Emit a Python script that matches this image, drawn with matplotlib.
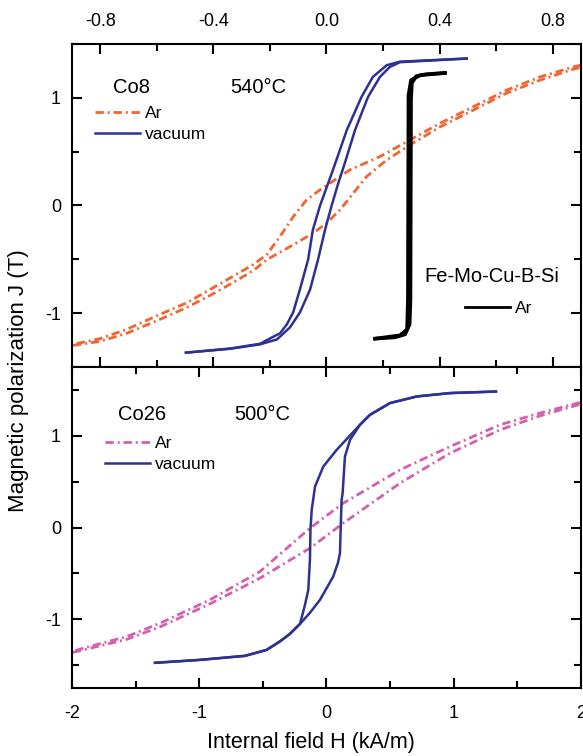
import numpy as np
import matplotlib.pyplot as plt
from matplotlib.ticker import MultipleLocator, FuncFormatter
from matplotlib.lines import Line2D

plt.rcParams["font.family"] = ["Liberation Sans", "DejaVu Sans"]
plt.rcParams["axes.unicode_minus"] = False

# ---- top panel: Co8, 540 C (upper H scale) ----
co8_vac_down_h = [0.496, 0.260, 0.213, 0.164, 0.124, 0.072, 0.023, -0.023, -0.048, -0.065,
                  -0.094, -0.118, -0.140, -0.164, -0.189, -0.235, -0.341, -0.497]
co8_vac_down_j = [1.365, 1.336, 1.303, 1.194, 1.009, 0.701, 0.331, -0.003, -0.225, -0.503,
                  -0.781, -0.994, -1.103, -1.187, -1.220, -1.285, -1.329, -1.367]
co8_vac_up_h = [-0.497, -0.341, -0.235, -0.175, -0.129, -0.094, -0.058, -0.030, -0.005, 0.018,
                0.041, 0.065, 0.101, 0.147, 0.189, 0.224, 0.260, 0.496]
co8_vac_up_j = [-1.367, -1.331, -1.290, -1.244, -1.132, -0.994, -0.781, -0.503, -0.225, -0.003,
                0.201, 0.395, 0.701, 1.009, 1.194, 1.287, 1.331, 1.365]

co8_ar_down_h = [0.900, 0.873, 0.755, 0.637, 0.519, 0.401, 0.295, 0.189, 0.083, -0.023, -0.070,
                 -0.117, -0.164, -0.211, -0.259, -0.330, -0.412, -0.494, -0.589, -0.707, -0.801, -0.896]
co8_ar_down_j = [1.303, 1.287, 1.194, 1.071, 0.917, 0.763, 0.608, 0.454, 0.331, 0.145, 0.053,
                 -0.102, -0.287, -0.456, -0.549, -0.657, -0.781, -0.904, -1.012, -1.151, -1.237, -1.290]
co8_ar_up_h = [-0.896, -0.801, -0.707, -0.589, -0.494, -0.412, -0.330, -0.259, -0.211, -0.117,
               -0.047, 0.001, 0.048, 0.095, 0.142, 0.213, 0.295, 0.401, 0.519, 0.637, 0.755, 0.873, 0.900]
co8_ar_up_j = [-1.300, -1.262, -1.188, -1.058, -0.947, -0.836, -0.716, -0.605, -0.503, -0.364,
               -0.256, -0.163, -0.040, 0.115, 0.269, 0.423, 0.562, 0.729, 0.886, 1.044, 1.164, 1.266, 1.284]

fe_up_h = [0.172, 0.242, 0.278, 0.294, 0.297, 0.299, 0.302, 0.317, 0.352, 0.419]
fe_up_j = [-1.237, -1.225, -1.197, -1.105, -0.873, 0.979, 1.136, 1.201, 1.219, 1.231]
fe_down_h = [0.419, 0.331, 0.299, 0.290, 0.288, 0.285, 0.260, 0.172]
fe_down_j = [1.231, 1.210, 1.164, 1.025, -0.873, -1.151, -1.206, -1.237]

# ---- bottom panel: Co26, 500 C ----
co26_vac_down_h = [1.332, 0.971, 0.709, 0.499, 0.342, 0.263, 0.080, -0.025, -0.090, -0.116,
                   -0.126, -0.130, -0.143, -0.169, -0.208, -0.287, -0.365, -0.470, -0.640, -0.994, -1.348]
co26_vac_down_j = [1.483, 1.466, 1.429, 1.357, 1.229, 1.120, 0.847, 0.665, 0.447, 0.193,
                   -0.025, -0.352, -0.679, -0.843, -1.050, -1.159, -1.241, -1.334, -1.399, -1.443, -1.475]
co26_vac_up_h = [-1.348, -0.994, -0.640, -0.470, -0.365, -0.287, -0.208, -0.130, -0.051, 0.053,
                 0.090, 0.106, 0.112, 0.119, 0.127, 0.145, 0.185, 0.263, 0.342, 0.499, 0.709, 0.971, 1.332]
co26_vac_up_j = [-1.475, -1.443, -1.399, -1.334, -1.241, -1.159, -1.050, -0.930, -0.788, -0.534,
                 -0.385, -0.279, 0.011, 0.302, 0.375, 0.774, 0.956, 1.120, 1.229, 1.357, 1.429, 1.466, 1.483]

co26_ar_down_h = [1.992, 1.678, 1.363, 0.971, 0.578, 0.132, -0.130, -0.523, -0.916, -1.308, -1.570, -1.937, -1.992]
co26_ar_down_j = [1.363, 1.248, 1.120, 0.883, 0.629, 0.266, -0.007, -0.480, -0.788, -1.043, -1.189, -1.326, -1.352]
co26_ar_up_h = [-1.992, -1.570, -1.308, -0.916, -0.523, -0.130, 0.132, 0.578, 0.971, 1.363, 1.678, 1.992]
co26_ar_up_j = [-1.361, -1.219, -1.083, -0.832, -0.552, -0.225, 0.048, 0.484, 0.811, 1.065, 1.218, 1.344]

_blue = "#2E3192"
_orange = "#F26430"
_pink = "#D45FAD"
_dashdot = (0, (3, 1.4, 0.7, 1.4))


def fmt_int(value, _):
    return f"{value:.0f}"


def fmt_one(value, _):
    return f"{value:.1f}"


fig = plt.figure(figsize=(5.83, 7.56), dpi=100)
ax1 = fig.add_axes([0.1235, 0.5146, 0.873, 0.4272])
ax2 = fig.add_axes([0.1235, 0.0899, 0.873, 0.4246])

# top panel curves
ax1.plot(co8_ar_down_h, co8_ar_down_j, color=_orange, lw=2.0, ls=_dashdot)
ax1.plot(co8_ar_up_h, co8_ar_up_j, color=_orange, lw=2.0, ls=_dashdot)
ax1.plot(co8_vac_down_h, co8_vac_down_j, color=_blue, lw=1.8)
ax1.plot(co8_vac_up_h, co8_vac_up_j, color=_blue, lw=1.8)
ax1.plot(fe_up_h, fe_up_j, color="black", lw=2.6)
ax1.plot(fe_down_h, fe_down_j, color="black", lw=2.6)

# bottom panel curves
ax2.plot(co26_ar_down_h, co26_ar_down_j, color=_pink, lw=2.0, ls=_dashdot)
ax2.plot(co26_ar_up_h, co26_ar_up_j, color=_pink, lw=2.0, ls=_dashdot)
ax2.plot(co26_vac_down_h, co26_vac_down_j, color=_blue, lw=1.8)
ax2.plot(co26_vac_up_h, co26_vac_up_j, color=_blue, lw=1.8)

ax1.set_xlim(-0.9, 0.9)
ax1.set_ylim(-1.5, 1.5)
ax2.set_xlim(-2, 2)
ax2.set_ylim(-1.75, 1.75)

for ax in (ax1, ax2):
    for sp in ax.spines.values():
        sp.set_linewidth(1.5)
    ax.yaxis.set_major_locator(MultipleLocator(1))
    ax.yaxis.set_minor_locator(MultipleLocator(0.5))
    ax.yaxis.set_major_formatter(FuncFormatter(fmt_int))
    ax.tick_params(which="both", direction="in", top=True, bottom=True, left=True, right=True,
                   width=1.5, labelsize=13)
    ax.tick_params(which="major", length=7)
    ax.tick_params(which="minor", length=5)
    ax.tick_params(axis="y", pad=8)

ax1.xaxis.set_major_locator(MultipleLocator(0.4))
ax1.xaxis.set_minor_locator(MultipleLocator(0.2))
ax1.xaxis.set_major_formatter(FuncFormatter(fmt_one))
ax1.tick_params(axis="x", labeltop=True, labelbottom=False, pad=10)

ax2.xaxis.set_major_locator(MultipleLocator(1))
ax2.xaxis.set_minor_locator(MultipleLocator(0.5))
ax2.xaxis.set_major_formatter(FuncFormatter(fmt_int))
ax2.tick_params(axis="x", pad=12)

ax2.set_xlabel("Internal field H (kA/m)", fontsize=15.5)
ax2.xaxis.set_label_coords(0.4695, -0.138)
fig.text(0.031, 0.496, "Magnetic polarization J (T)", fontsize=16, rotation=90,
         ha="center", va="center")

# annotations
ax1.text(0.0806, 0.864, "Co8", transform=ax1.transAxes, fontsize=14.5, va="center")
ax1.text(0.310, 0.864, "540°C", transform=ax1.transAxes, fontsize=14.5, va="center")
ax1.text(0.6916, 0.2786, "Fe-Mo-Cu-B-Si", transform=ax1.transAxes, fontsize=14.5, va="center")
ax2.text(0.0904, 0.8536, "Co26", transform=ax2.transAxes, fontsize=14.5, va="center")
ax2.text(0.318, 0.8536, "500°C", transform=ax2.transAxes, fontsize=14.5, va="center")

leg_kw = dict(frameon=False, fontsize=12.5, handlelength=2.6, handletextpad=0.3,
              labelspacing=0.3, borderpad=0, borderaxespad=0, loc="center left")

h_top = [Line2D([], [], color=_orange, lw=2.0, ls=_dashdot),
         Line2D([], [], color=_blue, lw=1.8)]
leg1 = ax1.legend(h_top, ["Ar", "vacuum"], bbox_to_anchor=(0.0452, 0.7526), **leg_kw)
ax1.add_artist(leg1)
h_fe = [Line2D([], [], color="black", lw=2.0)]
ax1.legend(h_fe, ["Ar"], bbox_to_anchor=(0.772, 0.1817), **leg_kw)

h_bot = [Line2D([], [], color=_pink, lw=2.0, ls=_dashdot),
         Line2D([], [], color=_blue, lw=1.8)]
ax2.legend(h_bot, ["Ar", "vacuum"], bbox_to_anchor=(0.0648, 0.7293), **leg_kw)

fig.savefig("out.png", dpi=100)
